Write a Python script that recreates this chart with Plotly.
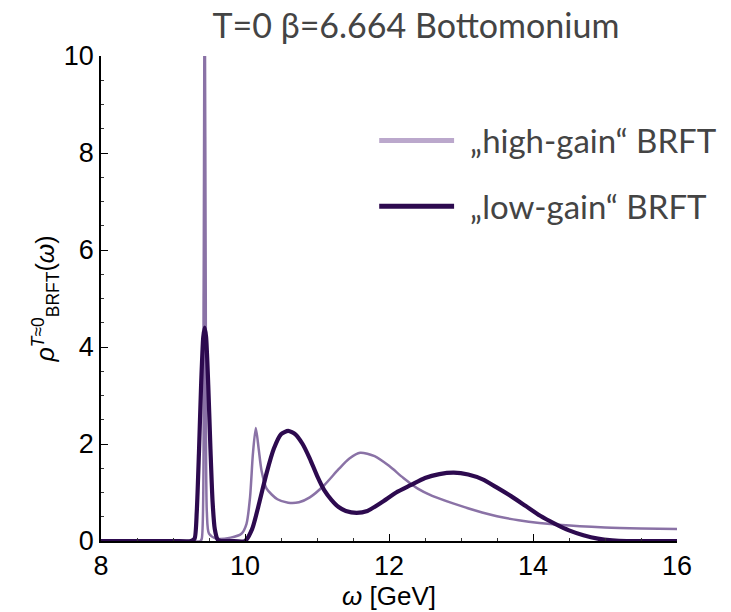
import plotly.graph_objects as go

# ---- data ----
omega_high = [8.0, 9.0, 9.38, 9.40, 9.425, 9.44, 9.455, 9.47, 9.50, 9.60, 9.80, 9.95,
              10.02, 10.07, 10.11, 10.15, 10.19, 10.23, 10.30, 10.45, 10.60, 10.75, 10.90,
              11.10, 11.30, 11.45, 11.60, 11.80, 12.00, 12.20, 12.40, 12.60, 12.90,
              13.20, 13.50, 13.80, 14.40, 15.00, 15.50, 16.00]
rho_high = [0.0, 0.0, 0.0, 0.05, 5.0, 12.0, 5.0, 0.6, 0.15, 0.05, 0.07, 0.15,
            0.35, 0.9, 1.8, 2.33, 1.9, 1.45, 1.08, 0.86, 0.79, 0.8, 0.9,
            1.15, 1.48, 1.7, 1.82, 1.75, 1.55, 1.3, 1.08, 0.93, 0.77,
            0.63, 0.51, 0.43, 0.33, 0.28, 0.26, 0.25]

omega_low = [8.0, 9.0, 9.25, 9.30, 9.33, 9.36, 9.39, 9.42, 9.44, 9.46, 9.49, 9.52,
             9.55, 9.58, 9.62, 9.66, 9.80, 10.00, 10.10, 10.20, 10.30, 10.40, 10.50,
             10.60, 10.70, 10.80, 10.90, 11.00, 11.10, 11.20, 11.30, 11.40, 11.55,
             11.70, 11.90, 12.10, 12.30, 12.50, 12.70, 12.90, 13.10, 13.30, 13.50,
             13.70, 13.90, 14.10, 14.30, 14.50, 14.70, 14.90, 15.10, 15.30, 15.60, 16.00]
rho_low = [0.0, 0.0, 0.0, 0.05, 0.6, 1.8, 3.2, 4.2, 4.4, 4.2, 3.2, 1.9,
           0.8, 0.25, 0.03, 0.0, 0.0, 0.0, 0.25, 0.8, 1.4, 1.9, 2.2,
           2.27, 2.2, 2.0, 1.7, 1.35, 1.05, 0.85, 0.7, 0.62, 0.58,
           0.62, 0.8, 1.0, 1.15, 1.3, 1.38, 1.41, 1.37, 1.27, 1.1,
           0.92, 0.72, 0.52, 0.36, 0.22, 0.12, 0.05, 0.015, 0.0, 0.0, 0.0]

x_ticks = [8, 10, 12, 14, 16]
y_ticks = [0, 2, 4, 6, 8, 10]
title_text = "T=0 β=6.664 Bottomonium"
legend_labels = ["„high-gain“ BRFT", "„low-gain“ BRFT"]

# ---- styles ----
C_HIGH = "#8a72a6"
C_HIGH_LEG = "#bba8cc"
C_LOW = "#2d0a4f"
TXT = "#444444"
AX_FONT = "Liberation Sans, Arial, sans-serif"

fig = go.Figure()
fig.add_trace(go.Scatter(x=omega_high, y=rho_high, mode="lines",
                         line=dict(color=C_HIGH, width=2.5, shape="spline", smoothing=0.7),
                         showlegend=False, hoverinfo="skip"))
fig.add_trace(go.Scatter(x=omega_low, y=rho_low, mode="lines",
                         line=dict(color=C_LOW, width=4.2, shape="spline", smoothing=0.6),
                         showlegend=False, hoverinfo="skip"))

axis_common = dict(showline=True, linecolor="black", linewidth=1.6, showgrid=False,
                   zeroline=False, ticks="inside", ticklen=7, tickwidth=1.4,
                   tickcolor="black", mirror=False,
                   tickfont=dict(family=AX_FONT, size=27, color="black"),
                   minor=dict(ticks="inside", ticklen=3.5, tickwidth=1, tickcolor="#333",
                              dtick=0.5))

fig.update_xaxes(range=[8, 16], tickvals=x_ticks, ticktext=[str(v) for v in x_ticks],
                 title=dict(text="<i>ω</i> [GeV]", standoff=2,
                            font=dict(family=AX_FONT, size=26, color="black")),
                 **axis_common)
fig.update_yaxes(range=[0, 10], tickvals=y_ticks, ticktext=[str(v) for v in y_ticks],
                 title=dict(text="<i>ρ</i><sup><i>T</i>≈0</sup><sub>BRFT</sub>(<i>ω</i>)", standoff=2,
                            font=dict(family=AX_FONT, size=25, color="black")),
                 **axis_common)

# legend drawn by hand (long line samples)
leg_y = [0.826, 0.690]
leg_cols = [C_HIGH_LEG, C_LOW]
for yy, col, lab in zip(leg_y, leg_cols, legend_labels):
    fig.add_shape(type="line", xref="paper", yref="paper", x0=0.483, x1=0.613, y0=yy, y1=yy,
                  line=dict(color=col, width=5))
    fig.add_annotation(xref="paper", yref="paper", x=0.637, y=yy, text=lab, showarrow=False,
                       xanchor="left", yanchor="middle",
                       font=dict(family="Lato, sans-serif", size=33, color=TXT))

fig.update_layout(
    width=731, height=612,
    margin=dict(l=101, r=54, t=56, b=71),
    paper_bgcolor="white", plot_bgcolor="white",
    title=dict(text=title_text, xref="container", yref="container", x=0.569, y=0.958,
               xanchor="center", yanchor="middle",
               font=dict(family="Lato, sans-serif", size=34, color=TXT)),
)

fig.write_html("out.html")
